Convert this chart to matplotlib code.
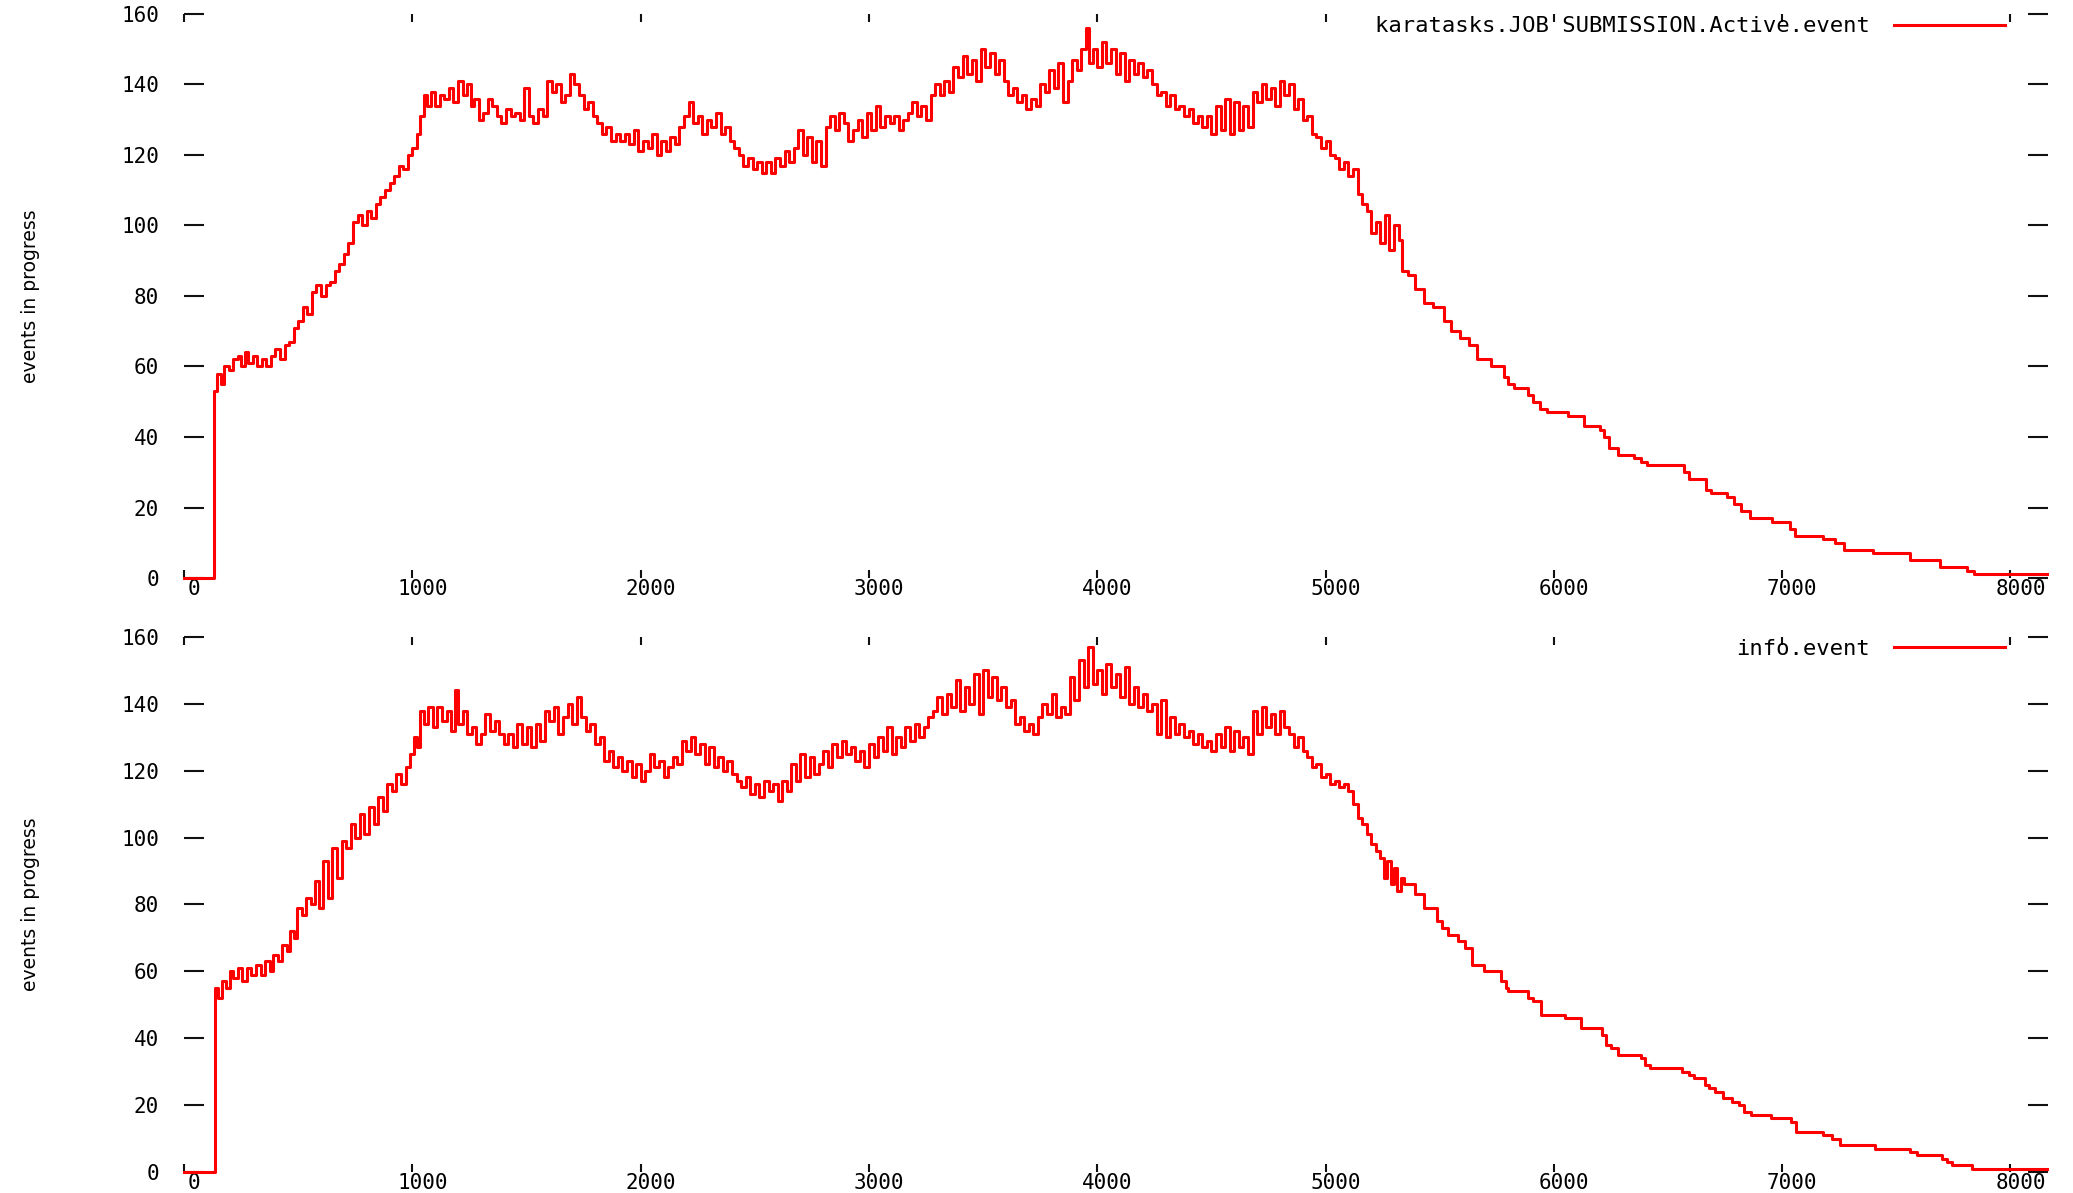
import matplotlib

matplotlib.use("Agg")
import matplotlib.pyplot as plt
from matplotlib.font_manager import FontProperties
from matplotlib.transforms import ScaledTranslation

# karatasks.JOB_SUBMISSION.Active.event (top panel), step data
KARATASKS_X = [
    0, 130, 145, 160, 175, 195, 215, 235, 250, 265, 280, 300, 320, 340, 360, 380, 400, 420, 440, 460,
    480, 500, 520, 540, 560, 580, 600, 620, 640, 660, 680, 700, 720, 740, 760, 780, 800, 820, 840, 860,
    880, 900, 920, 940, 960, 980, 1000, 1020, 1035, 1050, 1065, 1080, 1100, 1120, 1140, 1160, 1180, 1200,
    1220, 1240, 1255, 1270, 1290, 1310, 1330, 1350, 1370, 1390, 1410, 1430, 1450, 1470, 1490, 1510, 1530,
    1550, 1570, 1590, 1610, 1630, 1650, 1670, 1690, 1710, 1730, 1750, 1770, 1790, 1810, 1830, 1850, 1870,
    1890, 1910, 1930, 1950, 1970, 1990, 2010, 2030, 2050, 2070, 2090, 2110, 2130, 2150, 2170, 2190, 2210,
    2230, 2250, 2270, 2290, 2310, 2330, 2350, 2370, 2390, 2410, 2430, 2450, 2470, 2490, 2510, 2530, 2550,
    2570, 2590, 2610, 2630, 2650, 2670, 2690, 2710, 2730, 2750, 2770, 2790, 2810, 2830, 2850, 2870, 2890,
    2910, 2930, 2950, 2970, 2990, 3010, 3030, 3050, 3070, 3090, 3110, 3130, 3150, 3170, 3190, 3210, 3230,
    3250, 3270, 3290, 3310, 3330, 3350, 3370, 3390, 3410, 3430, 3450, 3470, 3490, 3510, 3530, 3550, 3570,
    3590, 3610, 3630, 3650, 3670, 3690, 3710, 3730, 3750, 3770, 3790, 3810, 3830, 3850, 3870, 3890, 3910,
    3930, 3950, 3965, 3980, 4000, 4020, 4040, 4060, 4080, 4100, 4120, 4140, 4160, 4180, 4200, 4220, 4240,
    4260, 4280, 4300, 4320, 4340, 4360, 4380, 4400, 4420, 4440, 4460, 4480, 4500, 4520, 4540, 4560, 4580,
    4600, 4620, 4640, 4660, 4680, 4700, 4720, 4740, 4760, 4780, 4800, 4820, 4840, 4860, 4880, 4900, 4920,
    4940, 4960, 4980, 5000, 5020, 5040, 5060, 5080, 5100, 5120, 5140, 5160, 5180, 5200, 5220, 5240, 5260,
    5280, 5300, 5320, 5335, 5360, 5390, 5430, 5470, 5520, 5550, 5590, 5630, 5665, 5725, 5780, 5800, 5825,
    5885, 5910, 5940, 5970, 6060, 6130, 6200, 6220, 6240, 6280, 6350, 6380, 6410, 6570, 6590, 6665, 6690,
    6760, 6790, 6820, 6860, 6955, 7035, 7055, 7080, 7180, 7230, 7270, 7400, 7560, 7690, 7810, 7840, 8160,
]
KARATASKS_Y = [
    0, 53, 58, 55, 60, 59, 62, 63, 60, 64, 61, 63, 60, 62, 60, 63, 65, 62, 66, 67,
    71, 73, 77, 75, 81, 83, 80, 83, 84, 87, 89, 92, 95, 101, 103, 100, 104, 102, 106, 108,
    110, 112, 114, 117, 116, 120, 122, 126, 131, 137, 134, 138, 134, 137, 136, 139, 135, 141,
    137, 140, 134, 136, 130, 132, 136, 134, 131, 129, 133, 131, 132, 130, 139, 131, 129,
    133, 131, 141, 138, 140, 135, 137, 143, 140, 137, 133, 135, 131, 129, 126, 128, 124,
    126, 124, 126, 123, 127, 121, 124, 122, 126, 120, 124, 121, 125, 123, 128, 131, 135,
    129, 131, 126, 130, 128, 132, 126, 128, 124, 122, 120, 117, 119, 116, 118, 115, 118,
    115, 119, 117, 121, 118, 122, 127, 120, 125, 118, 124, 117, 128, 131, 127, 132, 129,
    124, 127, 130, 125, 132, 127, 134, 128, 131, 129, 131, 127, 130, 132, 135, 131, 134,
    130, 137, 140, 137, 141, 138, 145, 142, 148, 143, 147, 141, 150, 145, 149, 143, 147,
    141, 137, 139, 135, 137, 133, 136, 134, 140, 138, 144, 139, 146, 135, 141, 147, 144,
    150, 156, 146, 150, 145, 152, 146, 150, 143, 149, 141, 147, 143, 146, 142, 144, 140,
    137, 138, 134, 137, 133, 134, 131, 133, 129, 131, 128, 131, 126, 134, 127, 136, 126,
    135, 127, 134, 128, 138, 135, 140, 136, 139, 134, 141, 137, 140, 133, 136, 130, 131,
    126, 125, 122, 124, 120, 119, 116, 118, 114, 116, 109, 106, 104, 98, 101, 95, 103,
    93, 100, 96, 87, 86, 82, 78, 77, 73, 70, 68, 66, 62, 60, 57, 55, 54,
    52, 50, 48, 47, 46, 43, 42, 40, 37, 35, 34, 33, 32, 30, 28, 25, 24,
    23, 21, 19, 17, 16, 14, 12, 12, 11, 10, 8, 7, 5, 3, 2, 1, 1,
]

# info.event (bottom panel)
INFO_X = [
    0, 136, 150, 168, 185, 200, 215, 235, 255, 275, 295, 315, 335, 355, 375, 390, 410, 430, 450, 465,
    480, 495, 515, 535, 555, 575, 590, 610, 630, 650, 670, 690, 710, 730, 750, 770, 790, 810, 830, 850,
    870, 890, 910, 930, 950, 970, 990, 1005, 1020, 1035, 1050, 1070, 1090, 1110, 1130, 1150, 1170, 1185,
    1200, 1220, 1240, 1260, 1280, 1300, 1320, 1340, 1360, 1380, 1400, 1420, 1440, 1460, 1480, 1500, 1520,
    1540, 1560, 1580, 1600, 1620, 1640, 1660, 1680, 1700, 1720, 1740, 1760, 1780, 1800, 1820, 1840, 1860,
    1880, 1900, 1920, 1940, 1960, 1980, 2000, 2020, 2040, 2060, 2080, 2100, 2120, 2140, 2160, 2180, 2200,
    2220, 2240, 2260, 2280, 2300, 2320, 2340, 2360, 2380, 2400, 2420, 2440, 2460, 2480, 2500, 2520, 2540,
    2560, 2580, 2600, 2620, 2640, 2660, 2680, 2700, 2720, 2740, 2760, 2780, 2800, 2820, 2840, 2860, 2880,
    2900, 2920, 2940, 2960, 2980, 3000, 3020, 3040, 3060, 3080, 3100, 3120, 3140, 3160, 3180, 3200, 3220,
    3240, 3260, 3280, 3300, 3320, 3340, 3360, 3380, 3400, 3420, 3440, 3460, 3480, 3500, 3520, 3540, 3560,
    3580, 3600, 3620, 3640, 3660, 3680, 3700, 3720, 3740, 3760, 3780, 3800, 3820, 3840, 3860, 3880, 3900,
    3920, 3940, 3960, 3980, 4000, 4020, 4040, 4060, 4080, 4100, 4120, 4140, 4160, 4180, 4200, 4220, 4240,
    4260, 4280, 4300, 4320, 4340, 4360, 4380, 4400, 4420, 4440, 4460, 4480, 4500, 4520, 4540, 4560, 4580,
    4600, 4620, 4640, 4660, 4680, 4700, 4720, 4740, 4760, 4780, 4800, 4820, 4840, 4860, 4880, 4900, 4920,
    4940, 4960, 4980, 5000, 5020, 5040, 5060, 5080, 5100, 5120, 5140, 5160, 5180, 5200, 5220, 5240, 5255,
    5270, 5285, 5300, 5315, 5330, 5345, 5390, 5430, 5490, 5510, 5535, 5580, 5610, 5640, 5695, 5770, 5790,
    5800, 5885, 5910, 5945, 6050, 6120, 6210, 6230, 6250, 6280, 6380, 6400, 6420, 6560, 6590, 6615, 6660,
    6680, 6705, 6740, 6780, 6810, 6835, 6865, 6950, 7040, 7060, 7180, 7220, 7255, 7405, 7560, 7590, 7700,
    7720, 7745, 7830, 8160,
]
INFO_Y = [
    0, 55, 52, 57, 55, 60, 58, 61, 57, 61, 59, 62, 59, 63, 60, 65, 63, 68, 66, 72,
    70, 79, 77, 82, 80, 87, 79, 93, 82, 97, 88, 99, 97, 104, 100, 107, 101, 109, 104, 112,
    108, 116, 114, 119, 116, 121, 125, 130, 127, 138, 134, 139, 133, 139, 135, 138, 132, 144,
    134, 138, 131, 133, 128, 131, 137, 132, 135, 131, 128, 131, 127, 134, 128, 133, 127,
    134, 129, 138, 135, 139, 131, 136, 140, 134, 142, 136, 132, 134, 128, 130, 123, 126,
    121, 124, 120, 123, 118, 122, 117, 120, 125, 121, 123, 118, 121, 124, 122, 129, 126,
    130, 125, 128, 122, 127, 121, 124, 120, 123, 119, 117, 115, 118, 113, 116, 112, 117,
    114, 116, 111, 117, 114, 122, 117, 125, 118, 124, 119, 122, 126, 121, 128, 124, 129,
    125, 127, 123, 126, 121, 128, 124, 130, 126, 133, 125, 130, 127, 133, 129, 134, 130,
    133, 136, 138, 142, 137, 143, 139, 147, 138, 145, 140, 149, 137, 150, 142, 148, 141,
    145, 139, 141, 134, 136, 132, 134, 131, 136, 140, 137, 143, 136, 139, 137, 148, 141,
    153, 145, 157, 146, 150, 143, 152, 145, 149, 142, 151, 140, 145, 139, 143, 138, 140,
    131, 141, 130, 136, 131, 134, 130, 132, 128, 131, 127, 129, 126, 131, 127, 133, 126,
    132, 127, 130, 125, 138, 131, 139, 133, 137, 131, 138, 133, 131, 127, 130, 126, 124,
    121, 122, 118, 119, 116, 117, 115, 116, 114, 110, 106, 104, 101, 98, 96, 94, 88,
    93, 86, 91, 84, 88, 86, 83, 79, 75, 73, 71, 69, 67, 62, 60, 57, 55,
    54, 52, 51, 47, 46, 43, 41, 38, 37, 35, 34, 32, 31, 30, 29, 28, 26,
    25, 24, 22, 21, 20, 18, 17, 16, 15, 12, 11, 10, 8, 7, 6, 5, 4,
    3, 2, 1, 1,
]

X_TICKS = [0, 1000, 2000, 3000, 4000, 5000, 6000, 7000, 8000]
Y_TICKS = [0, 20, 40, 60, 80, 100, 120, 140, 160]
PANELS = [
    ("karatasks.JOB SUBMISSION.Active.event", KARATASKS_X, KARATASKS_Y),
    ("info.event", INFO_X, INFO_Y),
]

MONO = FontProperties(family="DejaVu Sans Mono", size=15)
LEGEND_FONT = FontProperties(family="DejaVu Sans Mono", size=16)
X_MAX = 8165


def style_axes(fig, ax):
    for spine in ax.spines.values():
        spine.set_visible(False)
    ax.set_xlim(0, X_MAX)
    ax.set_ylim(0, 160)
    ax.set_xticks(X_TICKS)
    ax.set_yticks(Y_TICKS)
    ax.tick_params(axis="both", direction="in", top=True, right=True, color="#111111", width=1.5)
    ax.tick_params(axis="x", length=5.5, pad=1.0)
    ax.tick_params(axis="y", length=14.5, pad=18)
    for label in ax.get_xticklabels() + ax.get_yticklabels():
        label.set_fontproperties(MONO)
    shift = ScaledTranslation(0.1, 0, fig.dpi_scale_trans)
    for label in ax.get_xticklabels():
        label.set_transform(label.get_transform() + shift)
    ax.set_ylabel("events in progress", fontsize=13.5, va="center")
    ax.yaxis.set_label_coords(-0.0825, 0.5)


def main():
    fig = plt.figure(figsize=(20.73, 11.93), dpi=100)
    boxes = [(0.0888, 0.5155, 0.8992, 0.4728), (0.0888, 0.0176, 0.8992, 0.4485)]
    for (label, xs, ys), box in zip(PANELS, boxes):
        ax = fig.add_axes(box)
        ax.step(xs, ys, where="post", color="#ff0000", linewidth=2.2, label=label, clip_on=False)
        style_axes(fig, ax)
        ax.legend(
            loc="center right", bbox_to_anchor=(0.977, 0.978), frameon=False, markerfirst=False,
            handlelength=5.0, handletextpad=1.1, borderpad=0, borderaxespad=0, prop=LEGEND_FONT,
        )
    fig.savefig("out.png", dpi=100)


if __name__ == "__main__":
    main()
